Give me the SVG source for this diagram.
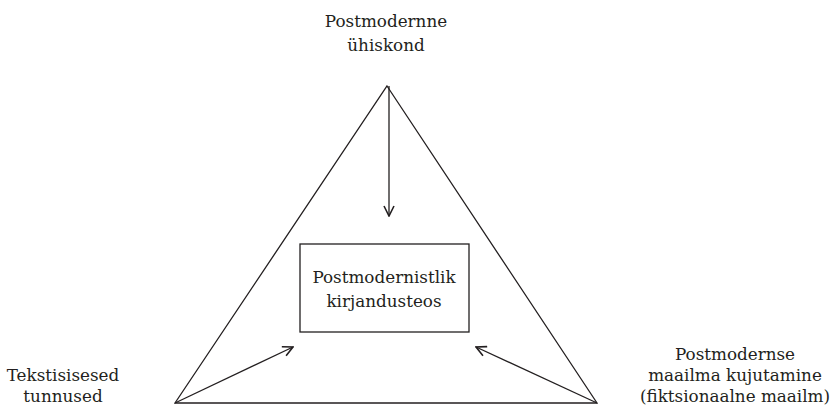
<svg xmlns="http://www.w3.org/2000/svg" width="831" height="407" viewBox="0 0 831 407">
<style>
text{font-family:"DejaVu Serif",serif;font-size:16.8px;fill:#231f20;text-anchor:middle}
.ln{stroke:#231f20;stroke-width:1.3;fill:none}
.ar{stroke:#231f20;stroke-width:1.3;fill:none;marker-end:url(#ah)}
</style>
<defs>
<marker id="ah" viewBox="0 0 12 12" refX="11" refY="6" markerWidth="12" markerHeight="12" markerUnits="userSpaceOnUse" orient="auto">
<path d="M1,1 L11,6 L1,11" fill="none" stroke="#231f20" stroke-width="1.6"/>
</marker>
</defs>
<g id="connectors">
<polygon class="ln" points="387,86 597,403 175,403"/>
<line class="ar" x1="389" y1="86" x2="389" y2="216"/>
<line class="ar" x1="175" y1="403" x2="293" y2="347"/>
<line class="ar" x1="597" y1="403" x2="476" y2="347"/>
</g>
<g id="top">
<text x="386" y="27">Postmodernne</text>
<text x="386" y="51">ühiskond</text>
</g>
<g id="center">
<rect class="ln" x="300" y="244" width="169" height="88"/>
<text x="384" y="283">Postmodernistlik</text>
<text x="384" y="307">kirjandusteos</text>
</g>
<g id="left">
<text x="63" y="381">Tekstisisesed</text>
<text x="63" y="402">tunnused</text>
</g>
<g id="right">
<text x="735" y="360">Postmodernse</text>
<text x="735" y="381">maailma kujutamine</text>
<text x="735" y="402">(fiktsionaalne maailm)</text>
</g>
</svg>
